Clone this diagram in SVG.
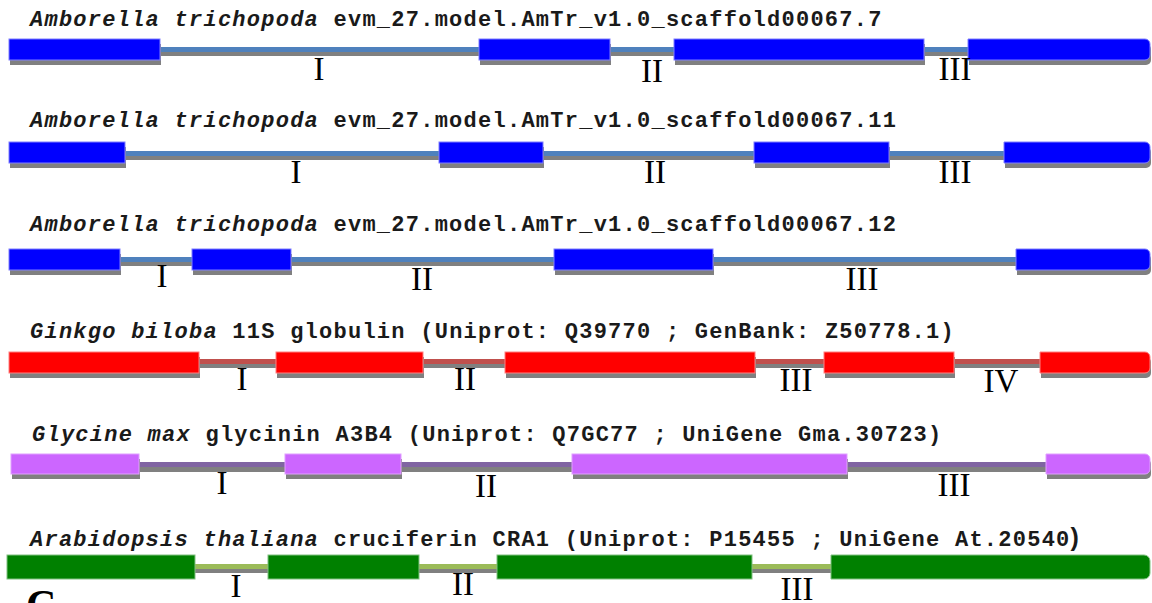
<svg xmlns="http://www.w3.org/2000/svg" width="1152" height="603" viewBox="0 0 1152 603">
<style>
.t{font-family:"Liberation Mono","Courier New",monospace;font-weight:bold;font-size:22px;letter-spacing:1.25px;fill:#1a1a1a}
.t .i{font-style:italic}
.r{font-family:"Liberation Serif","Times New Roman",serif;font-size:33px;fill:#000;text-anchor:middle}
.sh{fill:#808080}
.gr{fill:#808080}
.b{fill:#0000ff;stroke:#7f7fff;stroke-width:1}
.bi{fill:#4f81bd}
.rd{fill:#ff0000;stroke:#ff8080;stroke-width:1}
.ri{fill:#c0504d}
.v{fill:#cc66ff;stroke:#e0a0ff;stroke-width:1}
.vi{fill:#8064a2}
.g{fill:#008000;stroke:#80c080;stroke-width:1}
.gi{fill:#9bbb59}
</style>
<rect width="1152" height="603" fill="#fff"/>
<g id="connectors">
  <rect class="gr" x="160" y="52" width="808" height="4"/><rect class="bi" x="160" y="47" width="808" height="5"/>
  <rect class="gr" x="125" y="156" width="879" height="4"/><rect class="bi" x="125" y="151" width="879" height="5"/>
  <rect class="gr" x="120" y="262" width="896" height="4"/><rect class="bi" x="120" y="257" width="896" height="5"/>
  <rect class="gr" x="199" y="364" width="841" height="4"/><rect class="ri" x="199" y="359" width="841" height="5"/>
  <rect class="gr" x="139" y="467" width="907" height="5"/><rect class="vi" x="139" y="462" width="907" height="5"/>
  <rect class="gr" x="195" y="569" width="636" height="4"/><rect class="gi" x="195" y="564" width="636" height="5"/>
</g>
<g id="gene1">
  <text class="t" x="30" y="26"><tspan class="i">Amborella trichopoda</tspan> evm_27.model.AmTr_v1.0_scaffold00067.7</text>
  <rect class="sh" x="10" y="44" width="151" height="21"/>
  <rect class="sh" x="480" y="44" width="131" height="21"/>
  <rect class="sh" x="675" y="44" width="250" height="21"/>
  <path class="sh" d="M969 44H1146A5 5 0 0 1 1151 49V60A5 5 0 0 1 1146 65H969Z"/>
  <rect class="b" x="9" y="39" width="151" height="21"/>
  <rect class="b" x="479" y="39" width="131" height="21"/>
  <rect class="b" x="674" y="39" width="250" height="21"/>
  <path class="b" d="M968 39H1145A5 5 0 0 1 1150 44V55A5 5 0 0 1 1145 60H968Z"/>
  <text class="r" x="319" y="80">I</text><text class="r" x="652" y="82">II</text><text class="r" x="955" y="80">III</text>
</g>
<g id="gene2">
  <text class="t" x="30" y="127"><tspan class="i">Amborella trichopoda</tspan> evm_27.model.AmTr_v1.0_scaffold00067.11</text>
  <rect class="sh" x="10" y="147" width="116" height="21"/>
  <rect class="sh" x="440" y="147" width="104" height="21"/>
  <rect class="sh" x="755" y="147" width="135" height="21"/>
  <path class="sh" d="M1005 147H1146A5 5 0 0 1 1151 152V163A5 5 0 0 1 1146 168H1005Z"/>
  <rect class="b" x="9" y="142" width="116" height="21"/>
  <rect class="b" x="439" y="142" width="104" height="21"/>
  <rect class="b" x="754" y="142" width="135" height="21"/>
  <path class="b" d="M1004 142H1145A5 5 0 0 1 1150 147V158A5 5 0 0 1 1145 163H1004Z"/>
  <text class="r" x="296" y="183">I</text><text class="r" x="655" y="183">II</text><text class="r" x="955" y="183">III</text>
</g>
<g id="gene3">
  <text class="t" x="30" y="231"><tspan class="i">Amborella trichopoda</tspan> evm_27.model.AmTr_v1.0_scaffold00067.12</text>
  <rect class="sh" x="10" y="254" width="111" height="21"/>
  <rect class="sh" x="193" y="254" width="99" height="21"/>
  <rect class="sh" x="555" y="254" width="159" height="21"/>
  <path class="sh" d="M1017 254H1146A5 5 0 0 1 1151 259V270A5 5 0 0 1 1146 275H1017Z"/>
  <rect class="b" x="9" y="249" width="111" height="21"/>
  <rect class="b" x="192" y="249" width="99" height="21"/>
  <rect class="b" x="554" y="249" width="159" height="21"/>
  <path class="b" d="M1016 249H1145A5 5 0 0 1 1150 254V265A5 5 0 0 1 1145 270H1016Z"/>
  <text class="r" x="162" y="287">I</text><text class="r" x="422" y="290">II</text><text class="r" x="862" y="290">III</text>
</g>
<g id="gene4">
  <text class="t" x="30" y="338"><tspan class="i">Ginkgo biloba</tspan> 11S globulin (Uniprot: Q39770 ; GenBank: Z50778.1)</text>
  <rect class="sh" x="10" y="357" width="190" height="21"/>
  <rect class="sh" x="277" y="357" width="147" height="21"/>
  <rect class="sh" x="506" y="357" width="250" height="21"/>
  <rect class="sh" x="825" y="357" width="130" height="21"/>
  <path class="sh" d="M1041 357H1146A5 5 0 0 1 1151 362V373A5 5 0 0 1 1146 378H1041Z"/>
  <rect class="rd" x="9" y="352" width="190" height="21"/>
  <rect class="rd" x="276" y="352" width="147" height="21"/>
  <rect class="rd" x="505" y="352" width="250" height="21"/>
  <rect class="rd" x="824" y="352" width="130" height="21"/>
  <path class="rd" d="M1040 352H1145A5 5 0 0 1 1150 357V368A5 5 0 0 1 1145 373H1040Z"/>
  <text class="r" x="242" y="390">I</text><text class="r" x="465" y="390">II</text><text class="r" x="796" y="391">III</text><text class="r" x="1001" y="392">IV</text>
</g>
<g id="gene5">
  <text class="t" x="32" y="441"><tspan class="i">Glycine max</tspan> glycinin A3B4 (Uniprot: Q7GC77 ; UniGene Gma.30723)</text>
  <rect class="sh" x="12" y="459" width="128" height="20"/>
  <rect class="sh" x="286" y="459" width="116" height="20"/>
  <rect class="sh" x="573" y="459" width="275" height="20"/>
  <path class="sh" d="M1047 459H1146A5 5 0 0 1 1151 464V474A5 5 0 0 1 1146 479H1047Z"/>
  <rect class="v" x="11" y="454" width="128" height="20"/>
  <rect class="v" x="285" y="454" width="116" height="20"/>
  <rect class="v" x="572" y="454" width="275" height="20"/>
  <path class="v" d="M1046 454H1145A5 5 0 0 1 1150 459V469A5 5 0 0 1 1145 474H1046Z"/>
  <text class="r" x="222" y="494">I</text><text class="r" x="486" y="497">II</text><text class="r" x="954" y="496">III</text>
</g>
<g id="gene6">
  <text class="t" x="30" y="546"><tspan class="i">Arabidopsis thaliana</tspan> cruciferin CRA1 (Uniprot: P15455 ; UniGene At.20540<tspan style="font-family:'Liberation Sans',Arial,sans-serif;font-size:25px;letter-spacing:0">)</tspan></text>
  <rect class="g" x="7" y="555" width="188" height="24"/>
  <rect class="g" x="268" y="555" width="151" height="24"/>
  <rect class="g" x="497" y="555" width="255" height="24"/>
  <path class="g" d="M831 555H1144A6 6 0 0 1 1150 561V573A6 6 0 0 1 1144 579H831Z"/>
  <text class="r" x="236" y="597">I</text><text class="r" x="463" y="595">II</text><text class="r" x="797" y="600">III</text>
</g>
<text x="26" y="619" style="font-family:'Liberation Serif','Times New Roman',serif;font-weight:bold;font-size:42px;fill:#000">C</text>
</svg>
